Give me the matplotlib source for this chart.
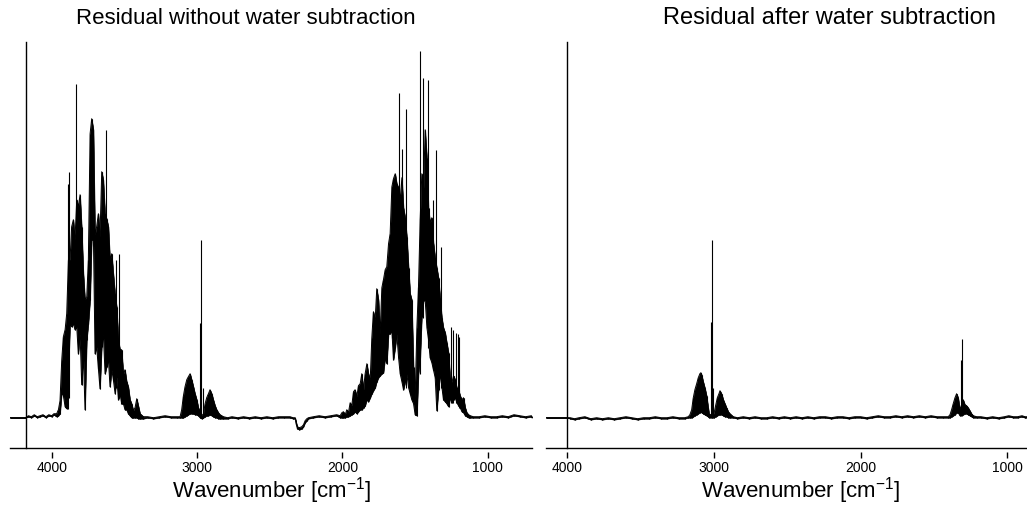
import numpy as np
import matplotlib
matplotlib.use("Agg")
from matplotlib import pyplot as plt

plt.rcParams["font.family"] = ["Liberation Sans", "DejaVu Sans"]
plt.rcParams["mathtext.fontset"] = "custom"
plt.rcParams["mathtext.rm"] = "Liberation Sans"
plt.rcParams["mathtext.default"] = "regular"

# --- left spectrum (without water subtraction): envelope
left_wn = [4287, 4180, 4160, 4140, 4120, 4100, 4080, 4060, 4040, 4020, 4000, 3985,
           3966, 3954, 3943, 3931, 3920, 3908, 3897, 3885, 3874, 3863, 3851, 3840,
           3828, 3817, 3805, 3794, 3782, 3771, 3759, 3748, 3736, 3725, 3713, 3702,
           3691, 3679, 3668, 3656, 3645, 3633, 3622, 3610, 3599, 3587, 3576, 3564,
           3553, 3541, 3530, 3519, 3507, 3496, 3484, 3473, 3461, 3450, 3438, 3427,
           3415, 3404, 3392, 3369,
           3340, 3300, 3260, 3220, 3180, 3140, 3117,
           3106, 3094, 3083, 3071, 3060, 3048, 3037, 3025, 3014, 3002, 2991, 2979,
           2968, 2956, 2945, 2934, 2922, 2911, 2899, 2888, 2876, 2865, 2853, 2842, 2819,
           2790, 2760, 2720, 2680, 2640, 2600, 2560, 2520, 2480, 2440, 2400, 2360, 2340,
           2325, 2319, 2310, 2296, 2280, 2268, 2257, 2245, 2234,
           2200, 2160, 2120, 2080, 2040,
           2016, 2004, 1993, 1981, 1970, 1959, 1947, 1936, 1924, 1913, 1901, 1890,
           1878, 1867, 1855, 1844, 1832, 1821, 1809, 1798, 1787, 1775, 1764, 1752,
           1741, 1729, 1718, 1706, 1695, 1683, 1672, 1660, 1649, 1637, 1626, 1614,
           1603, 1591, 1580, 1568, 1557, 1545, 1534, 1523, 1511, 1500, 1488, 1477,
           1465, 1454, 1442, 1431, 1419, 1408, 1397, 1385, 1374, 1362, 1351, 1339,
           1328, 1316, 1305, 1293, 1282, 1270, 1259, 1247, 1236, 1224, 1213, 1201,
           1190, 1178, 1167, 1155, 1144, 1132, 1121,
           1100, 1060, 1020, 980, 940, 900, 860, 820, 780, 740, 700, 696]
left_hi = [0, 0, 2, 1, 3, 1, 2, 3, 1, 3, 2, 4,
           4, 8, 17, 58, 81, 88, 104, 158, 158, 191, 198, 178,
           218, 211, 223, 191, 144, 118, 121, 158, 284, 299, 288, 183,
           191, 204, 181, 246, 238, 204, 199, 191, 158, 164, 144, 124,
           111, 78, 68, 68, 44, 48, 36, 31, 18, 14, 7, 10,
           19, 12, 4, 1,
           1, 0, 1, 2, 1, 1, 1,
           8, 22, 31, 38, 41, 44, 38, 31, 24, 18, 10, 6,
           2, 4, 14, 20, 24, 28, 24, 18, 12, 8, 5, 3, 1,
           0, 1, 0, 1, 0, 1, 0, 1, 0, 1, 1, 1, 0,
           0, -4, -9, -10, -9, -7, -3, -1, 0,
           1, 2, 1, 2, 3,
           2, 5, 6, 3, 8, 5, 15, 12, 26, 28, 21, 32,
           34, 44, 28, 44, 54, 44, 38, 80, 106, 98, 129, 118,
           84, 130, 138, 148, 151, 174, 184, 231, 239, 244, 234, 230,
           218, 240, 210, 200, 181, 150, 124, 118, 51, 20, 90, 131,
           200, 244, 230, 288, 260, 210, 195, 200, 175, 160, 150, 140,
           120, 100, 90, 85, 75, 65, 40, 35, 42, 38, 30, 28,
           22, 18, 20, 10, 5, 3, 2,
           1, 1, 2, 1, 1, 2, 1, 3, 2, 1, 2, 1]
left_lo = [0, 0, 1, 0, 2, 0, 1, 2, 0, 2, 1, 3,
           1, 2, 4, 25, 22, 11, 9, 44, 94, 91, 94, 88,
           91, 64, 84, 33, 61, 8, 78, 94, 118, 178, 178, 64,
           71, 49, 29, 71, 84, 44, 51, 58, 31, 48, 38, 24,
           41, 18, 24, 14, 14, 8, 8, 4, 2, 0, 0, 0,
           0, -1, -1, -1,
           0, -1, 0, 1, 0, 0, 0,
           0, 0, 1, 2, 3, 4, 4, 4, 3, 3, 2, 0,
           -1, 0, 1, 2, 2, 3, 2, 1, 0, 0, -1, -1, -1,
           -1, 0, -1, 0, -1, 0, -1, 0, -1, 0, 0, 0, -1,
           -1, -6, -11, -12, -11, -9, -5, -3, -1,
           0, 1, 0, 1, 2,
           0, 0, 0, 0, 1, 1, 2, 3, 4, 6, 4, 6,
           8, 8, 10, 12, 18, 16, 20, 24, 27, 30, 36, 40,
           42, 44, 45, 60, 54, 84, 84, 87, 58, 70, 84, 60,
           44, 36, 28, 36, 44, 30, 24, 18, 14, 3, 2, 44,
           60, 101, 117, 118, 90, 78, 60, 55, 48, 40, 7, 28,
           44, 30, 18, 16, 14, 11, 20, 15, 18, 20, 15, 12,
           10, 6, 5, 2, 1, 0, 0,
           0, 0, 1, 0, 0, 1, 0, 2, 1, 0, 1, 0]

# single tall rotational lines (wavenumber, top, bottom)
left_line_wn = [3890, 3881, 3833, 3684, 3652, 3626, 3557, 3537, 3525,
                2977, 2973, 2961,
                1660, 1614, 1591, 1566, 1465, 1447, 1412, 1378, 1357, 1323,
                1254, 1240, 1222, 1208, 1195]
left_line_top = [234, 246, 334, 204, 246, 288, 158, 164, 68,
                 95, 178, 30,
                 231, 325, 269, 309, 367, 340, 338, 218, 268, 171,
                 91, 88, 85, 84, 81]
left_line_bot = [9, 20, 90, 60, 80, 60, 30, 20, 14,
                 3, 0, 0,
                 80, 60, 40, 30, 44, 100, 70, 50, 40, 30,
                 15, 15, 15, 12, 10]

# --- right spectrum (after water subtraction)
right_wn = [4145, 4000, 3980, 3950, 3920, 3880, 3840, 3800, 3760, 3720, 3680, 3640,
            3600, 3560, 3520, 3480, 3440, 3400, 3360, 3320, 3280, 3240, 3200,
            3175, 3164, 3152, 3141, 3130, 3118, 3107, 3096, 3089, 3084, 3073, 3062,
            3050, 3039, 3032, 3000, 2989, 2977, 2966, 2959, 2948, 2936, 2925, 2914,
            2902, 2891, 2868,
            2840, 2800, 2760, 2720, 2680, 2640, 2600, 2560, 2520, 2480, 2440, 2400,
            2360, 2320, 2280, 2240, 2200, 2160, 2120, 2080, 2040, 2000, 1960, 1920,
            1880, 1840, 1800, 1760, 1720, 1680, 1640, 1600, 1560, 1520, 1480, 1440,
            1403, 1391, 1380, 1369, 1357, 1346, 1335, 1323, 1301, 1289, 1278, 1267,
            1255, 1244, 1232, 1210,
            1180, 1140, 1100, 1060, 1020, 990, 960, 930, 900, 880, 866]
right_hi = [0, 0, 0, -1, 0, 1, -1, 0, -1, 0, -1, 0,
            1, 0, -1, 0, 0, 1, 0, 0, 1, 0, 0,
            1, 3, 8, 20, 28, 34, 40, 44, 45, 43, 36, 30,
            22, 10, 3, 4, 12, 20, 24, 27, 24, 18, 14, 10,
            6, 4, 1,
            0, 1, 0, 1, 0, 0, 1, 0, 1, 0, 1, 0,
            1, 0, 1, 1, 0, 1, 1, 0, 1, 1, 0, 1,
            2, 1, 1, 2, 1, 2, 1, 2, 1, 2, 1, 1,
            1, 3, 8, 14, 20, 24, 20, 8, 18, 13, 12, 10,
            7, 4, 2, 1,
            1, 0, 1, 0, 1, 2, 1, 1, 2, 1, 1]
right_lo = [0, 0, -1, -2, -1, 0, -2, -1, -2, -1, -2, -1,
            0, -1, -2, -1, -1, 0, -1, -1, 0, -1, -1,
            0, 0, 0, 1, 2, 3, 4, 5, 6, 5, 4, 3,
            2, 1, 0, 0, 1, 2, 3, 3, 3, 2, 1, 1,
            0, 0, 0,
            -1, 0, -1, 0, -1, -1, 0, -1, 0, -1, 0, -1,
            0, -1, 0, 0, -1, 0, 0, -1, 0, 0, -1, 0,
            1, 0, 0, 1, 0, 1, 0, 1, 0, 1, 0, 0,
            0, 0, 1, 2, 3, 5, 5, 2, 3, 4, 4, 3,
            2, 1, 0, 0,
            0, -1, 0, -1, 0, 1, 0, 0, 1, 0, 0]

right_line_wn = [3023, 3016, 3009, 1314, 1307]
right_line_top = [96, 178, 30, 58, 79]
right_line_bot = [1, 0, 1, 2, 2]

tick_pos = [4000, 3000, 2000, 1000]
tick_labels = ["4000", "3000", "2000", "1000"]

fig = plt.figure(figsize=(10.27, 5.07), dpi=100)
W, H = 1027.0, 507.0

def spectrum(rect, wn, hi, lo, lwn, ltop, lbot, xlim, yaxis_at):
    ax = fig.add_axes(rect)
    ax.fill_between(wn, lo, hi, color="k", lw=0.4)
    ax.vlines(wn, lo, hi, color="k", lw=0.8)
    ax.plot(wn, hi, color="k", lw=0.7)
    ax.plot(wn, lo, color="k", lw=0.7)
    ax.vlines(lwn, lbot, ltop, color="k", lw=0.8)
    ax.set_xlim(xlim)
    ax.set_ylim(-30.3, 375.7)
    ax.spines["top"].set_visible(False)
    ax.spines["right"].set_visible(False)
    ax.spines["left"].set_position(("data", yaxis_at))
    ax.spines["left"].set_linewidth(1.0)
    ax.spines["bottom"].set_position(("outward", 3))
    ax.spines["bottom"].set_visible(False)
    ax.axhline(-30.3, color="k", lw=1.0, clip_on=False)
    ax.set_yticks([])
    ax.set_xticks(tick_pos)
    ax.set_xticklabels(tick_labels)
    ax.tick_params(axis="x", direction="out", length=4, width=1.0,
                   pad=2, labelsize=10, colors="k")
    return ax

axl = spectrum([10 / W, 59 / H, 522 / W, 406 / H], left_wn, left_hi, left_lo,
               left_line_wn, left_line_top, left_line_bot, (4287, 696), 4179)
axr = spectrum([546 / W, 59 / H, 481 / W, 406 / H], right_wn, right_hi, right_lo,
               right_line_wn, right_line_top, right_line_bot, (4145, 866), 4000)

fig.text(246 / W, 1 - 18 / H, "Residual without water subtraction",
         ha="center", va="center", fontsize=16)
fig.text(829 / W, 1 - 18 / H, "Residual after water subtraction",
         ha="center", va="center", fontsize=17)
fig.text(272 / W, 1 - 497 / H, "Wavenumber [cm$^{-1}$]",
         ha="center", va="baseline", fontsize=16)
fig.text(801 / W, 1 - 497 / H, "Wavenumber [cm$^{-1}$]",
         ha="center", va="baseline", fontsize=16)

plt.savefig("out.png", dpi=100)
